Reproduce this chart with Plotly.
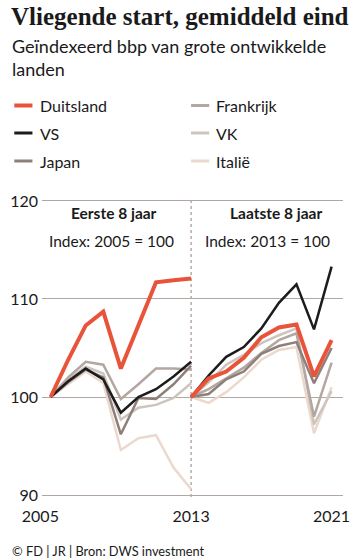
import plotly.graph_objects as go

# ---------------- data ----------------
years_left = [2005, 2006, 2007, 2008, 2009, 2010, 2011, 2012, 2013]
years_right = [2013, 2014, 2015, 2016, 2017, 2018, 2019, 2020, 2021]

countries = ["Duitsland", "VS", "Japan", "Frankrijk", "VK", "Italië"]

duitsland_left = [100, 103.8, 107.3, 108.7, 102.9, 107.3, 111.7, 111.9, 112.1]
vs_left = [100, 101.6, 102.9, 101.8, 98.4, 100.0, 100.8, 102.1, 103.6]
japan_left = [100, 101.5, 102.8, 102.0, 96.2, 99.9, 99.8, 101.3, 103.2]
frankrijk_left = [100, 102.0, 103.6, 103.3, 99.8, 101.3, 102.9, 102.9, 102.8]
vk_left = [100, 101.8, 103.1, 102.4, 97.7, 98.9, 99.2, 99.9, 101.4]
italie_left = [100, 101.3, 102.6, 101.4, 94.6, 95.8, 96.1, 92.8, 90.6]

duitsland_right = [100, 101.9, 102.6, 104.0, 106.1, 107.1, 107.4, 102.1, 105.8]
vs_right = [100, 102.2, 104.1, 105.1, 107.0, 109.6, 111.5, 106.9, 113.3]
japan_right = [100, 100.3, 101.8, 102.6, 104.4, 105.2, 105.6, 101.4, 105.0]
frankrijk_right = [100, 100.8, 101.9, 103.0, 104.5, 105.8, 106.5, 98.0, 103.5]
vk_right = [100, 101.5, 103.3, 104.3, 105.5, 106.3, 107.0, 97.2, 100.6]
italie_right = [100, 99.4, 100.5, 102.0, 103.8, 104.8, 105.1, 96.3, 101.0]

y_ticks = [90, 100, 110, 120]
x_ticks = [2005, 2013, 2021]
x_ticktext = ["2005\u00a0\u00a0\u00a0\u00a0\u00a0", "2013", "2021"]

# ---------------- styles ----------------
colors = {
    "Duitsland": "#e8533a",
    "VS": "#1c1c1c",
    "Japan": "#8e7f7b",
    "Frankrijk": "#b3a7a2",
    "VK": "#cec4be",
    "Italië": "#ecd9cd",
}
widths = {"Duitsland": 4, "VS": 2.5, "Japan": 2.5, "Frankrijk": 2.5, "VK": 2.5, "Italië": 2.5}

series = {
    "Duitsland": (duitsland_left, duitsland_right),
    "VS": (vs_left, vs_right),
    "Japan": (japan_left, japan_right),
    "Frankrijk": (frankrijk_left, frankrijk_right),
    "VK": (vk_left, vk_right),
    "Italië": (italie_left, italie_right),
}

W, H = 360, 559
ML, MR, MT, MB = 35, 10, 199, 62
SANS = "Lato, 'Open Sans', sans-serif"
TXT = "#1a1a1a"
GRID = "#b3a7a2"


def px_x(p):
    return (p - ML) / (W - ML - MR)


def px_y(p):
    return (H - MB - p) / (H - MT - MB)


fig = go.Figure()
draw_order = ["Italië", "VK", "Frankrijk", "Japan", "VS", "Duitsland"]
for c in draw_order:
    left, right = series[c]
    for xs, ys in ((years_left, left), (years_right, right)):
        fig.add_trace(go.Scatter(
            x=xs, y=ys, mode="lines", name=c, showlegend=False,
            line=dict(color=colors[c], width=widths[c]),
            hoverinfo="skip",
        ))

# divider
split_year = years_left[-1]
fig.add_shape(type="line", xref="x", yref="paper", x0=split_year, x1=split_year,
              y0=0, y1=px_y(200), line=dict(color="#a89691", width=1.2, dash="dot"),
              layer="below")

annotations = []
# title / subtitle
annotations.append(dict(text="<b>Vliegende start, gemiddeld eind</b>", xref="paper", yref="paper",
                        x=px_x(0), y=px_y(1), xanchor="left", yanchor="top", showarrow=False,
                        font=dict(family="'Liberation Serif', serif", size=25, color=TXT)))
annotations.append(dict(text="Geïndexeerd bbp van grote ontwikkelde<br>landen", xref="paper", yref="paper",
                        x=px_x(1), y=px_y(33), xanchor="left", yanchor="top", showarrow=False, align="left",
                        font=dict(family=SANS, size=18, color=TXT)))

# legend (manual, two columns)
legend_pos = {
    "Duitsland": (6, 31, 105.5), "VS": (6, 31, 133), "Japan": (6, 31, 161),
    "Frankrijk": (191, 215, 105.5), "VK": (191, 215, 133), "Italië": (191, 215, 161),
}
for c in countries:
    lx, tx, ly = legend_pos[c]
    fig.add_shape(type="line", xref="paper", yref="paper", x0=px_x(lx), x1=px_x(lx + 19),
                  y0=px_y(ly), y1=px_y(ly),
                  line=dict(color=colors[c], width=4 if c == "Duitsland" else 3))
    annotations.append(dict(text=c, xref="paper", yref="paper", x=px_x(tx), y=px_y(ly),
                            xanchor="left", yanchor="middle", showarrow=False,
                            font=dict(family=SANS, size=16, color=TXT)))

# panel labels
annotations += [
    dict(text="<b>Eerste 8 jaar</b>", xref="paper", yref="paper", x=px_x(110), y=px_y(213),
         xanchor="center", yanchor="middle", showarrow=False, font=dict(family=SANS, size=15.5, color=TXT)),
    dict(text="Index: 2005 = 100", xref="paper", yref="paper", x=px_x(108), y=px_y(241),
         xanchor="center", yanchor="middle", showarrow=False, font=dict(family=SANS, size=15.5, color=TXT)),
    dict(text="<b>Laatste 8 jaar</b>", xref="paper", yref="paper", x=px_x(280), y=px_y(213),
         xanchor="center", yanchor="middle", showarrow=False, font=dict(family=SANS, size=15.5, color=TXT)),
    dict(text="Index: 2013 = 100", xref="paper", yref="paper", x=px_x(271), y=px_y(241),
         xanchor="center", yanchor="middle", showarrow=False, font=dict(family=SANS, size=15.5, color=TXT)),
]
# footer
annotations.append(dict(text="© FD | JR | Bron: DWS investment", xref="paper", yref="paper",
                        x=px_x(2), y=px_y(551), xanchor="left", yanchor="middle", showarrow=False,
                        font=dict(family=SANS, size=12.8, color=TXT)))

fig.update_layout(
    width=W, height=H,
    margin=dict(l=ML, r=MR, t=MT, b=MB, pad=0),
    paper_bgcolor="white", plot_bgcolor="white",
    showlegend=False,
    annotations=annotations,
    xaxis=dict(range=[2004.51, 2021.65], tickvals=x_ticks, ticktext=x_ticktext,
               showgrid=False, zeroline=False, showline=False, ticks="",
               tickfont=dict(family=SANS, size=16, color=TXT), ticklabelstandoff=8, fixedrange=True),
    yaxis=dict(range=[89.8, 120.2], tickvals=y_ticks, showgrid=True, gridcolor=GRID, gridwidth=1.2,
               zeroline=False, showline=False, ticks="",
               tickfont=dict(family=SANS, size=16, color=TXT), ticklabelstandoff=3, fixedrange=True),
)

fig.write_html("out.html", config={"displayModeBar": False},
               post_script="document.body.style.margin='0';document.body.style.padding='0';")
